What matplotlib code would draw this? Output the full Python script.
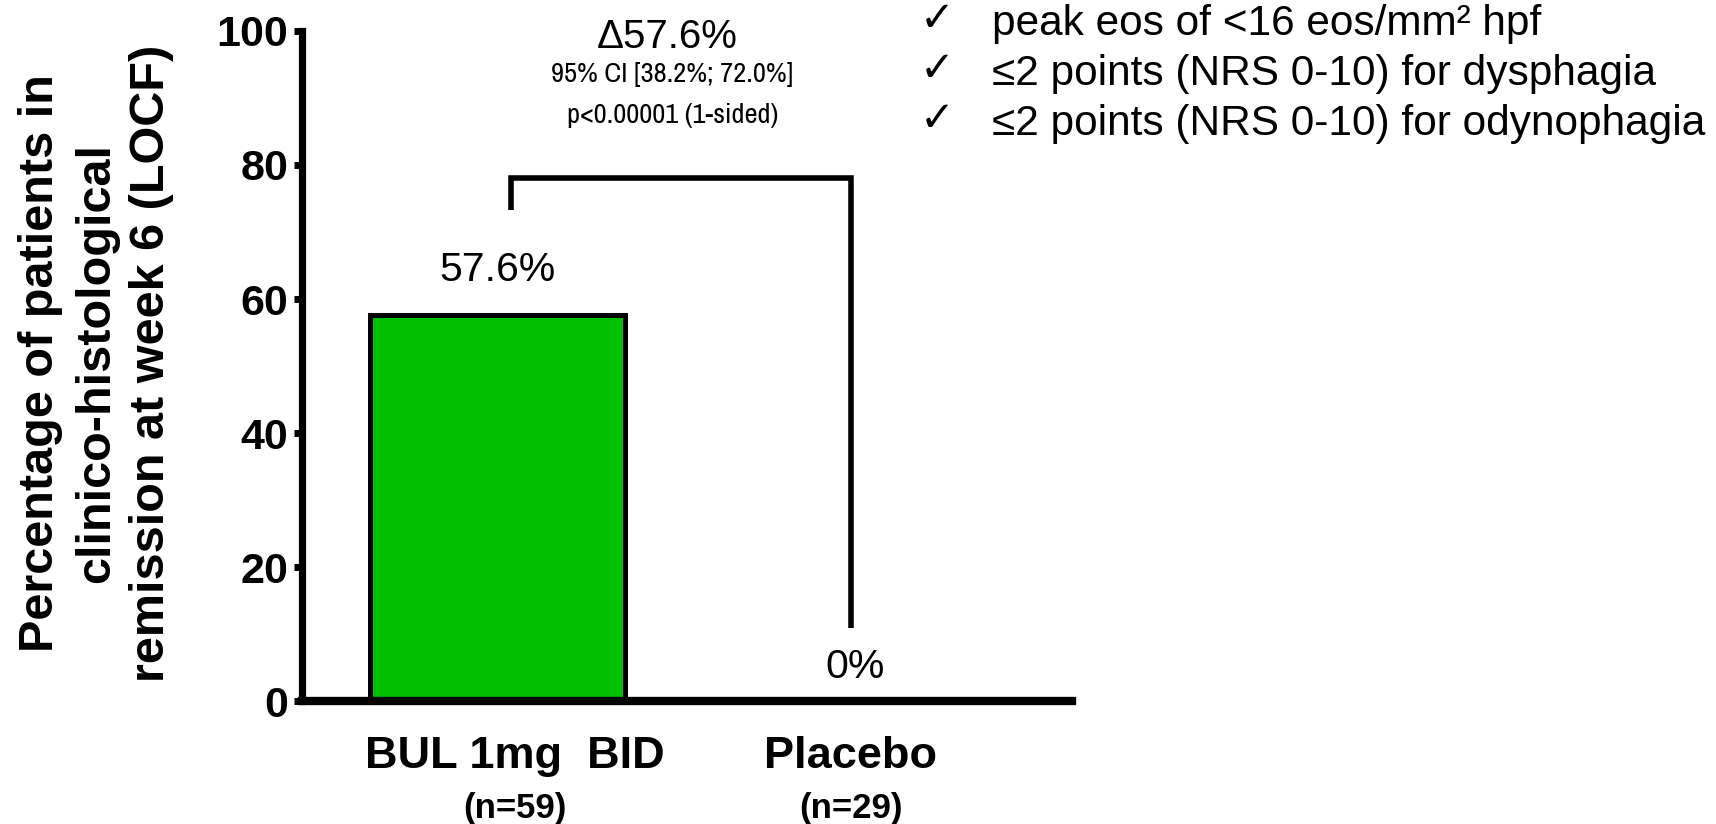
import matplotlib
matplotlib.use("Agg")
import matplotlib.pyplot as plt
from matplotlib import font_manager as fm

categories = ["BUL 1mg  BID", "Placebo"]
n_labels = ["(n=59)", "(n=29)"]
values = [57.6, 0.0]
value_labels = ["57.6%", "0%"]
yticks = [0, 20, 40, 60, 80, 100]
annot_lines = ["\u039457.6%", "95% CI [38.2%; 72.0%]", "p<0.00001 (1-sided)"]
criteria = ["peak eos of <16 eos/mm\u00b2 hpf",
            "\u22642 points (NRS 0-10) for dysphagia",
            "\u22642 points (NRS 0-10) for odynophagia"]

available = {f.name for f in fm.fontManager.ttflist}
REG = ["Liberation Sans", "DejaVu Sans"]
narrow_name = None
for cand in ["Liberation Sans Narrow", "Arial Narrow", "Archivo Narrow", "PT Sans Narrow",
             "Roboto Condensed"]:
    if cand in available:
        narrow_name = cand
        break
if narrow_name:
    NARROW = [narrow_name, "DejaVu Sans"]
    ci_size = 20.5
else:
    NARROW = REG
    ci_size = 16
plt.rcParams['font.family'] = REG

fig = plt.figure(figsize=(17.16, 8.24), dpi=100)
ax = fig.add_axes([0.176, 0.1487, 0.449, 0.814])

x = [0, 1]
ax.bar(x, values, width=0.721, color="#00C000", edgecolor="black", linewidth=3.6, zorder=3)

ax.set_xlim(-0.552, 1.627)
ax.set_ylim(0, 100)
ax.set_yticks(yticks)
ax.set_yticklabels([str(t) for t in yticks], fontweight="bold", fontsize=31)
ax.tick_params(axis="y", length=6, width=5, pad=4)
ax.set_xticks([])
for s in ["top", "right"]:
    ax.spines[s].set_visible(False)
ax.spines["left"].set_linewidth(5.2)
ax.spines["bottom"].set_linewidth(6.0)
ax.spines["bottom"].set_zorder(5)

# category labels
cat_x = [0.05, 1.0]
for xi, c, n in zip(cat_x, categories, n_labels):
    ax.text(xi, -9.9, c, ha="center", va="baseline", fontweight="bold", fontsize=32.5)
    ax.text(xi, -17.4, n, ha="center", va="baseline", fontweight="bold", fontsize=25)

# value labels
ax.text(0.0, 62.7, value_labels[0], ha="center", va="baseline", fontsize=29.5)
ax.text(1.013, 3.5, value_labels[1], ha="center", va="baseline", fontsize=29.5)

# bracket
ax.plot([0.04, 0.04, 1.0, 1.0], [73.3, 78.0, 78.0, 11.0], color="black", linewidth=4.0,
        solid_joinstyle="miter", solid_capstyle="butt", zorder=4)

# annotation
ax.text(0.48, 97.4, annot_lines[0], ha="center", va="baseline", fontsize=29)
ax.text(0.495, 92.3, annot_lines[1], ha="center", va="baseline", family=NARROW, fontsize=ci_size)
ax.text(0.495, 86.2, annot_lines[2], ha="center", va="baseline", family=NARROW, fontsize=ci_size)

# y label
fig.text(0.0562, 0.5595, "Percentage of patients in\nclinico-histological\nremission at week 6 (LOCF)",
         rotation=90, ha="center", va="center", fontweight="bold", fontsize=35,
         linespacing=1.3, multialignment="center")

# criteria list
for i, t in enumerate(criteria):
    yy = 1 - (35 + 50 * i) / 824
    fig.text(920 / 1716, yy + 4 / 824, "\u2713", ha="left", va="baseline", family=["DejaVu Sans"],
             fontweight="bold", fontsize=30)
    fig.text(992 / 1716, yy, t, ha="left", va="baseline", fontsize=30.5)

fig.savefig("out.png", dpi=100)
